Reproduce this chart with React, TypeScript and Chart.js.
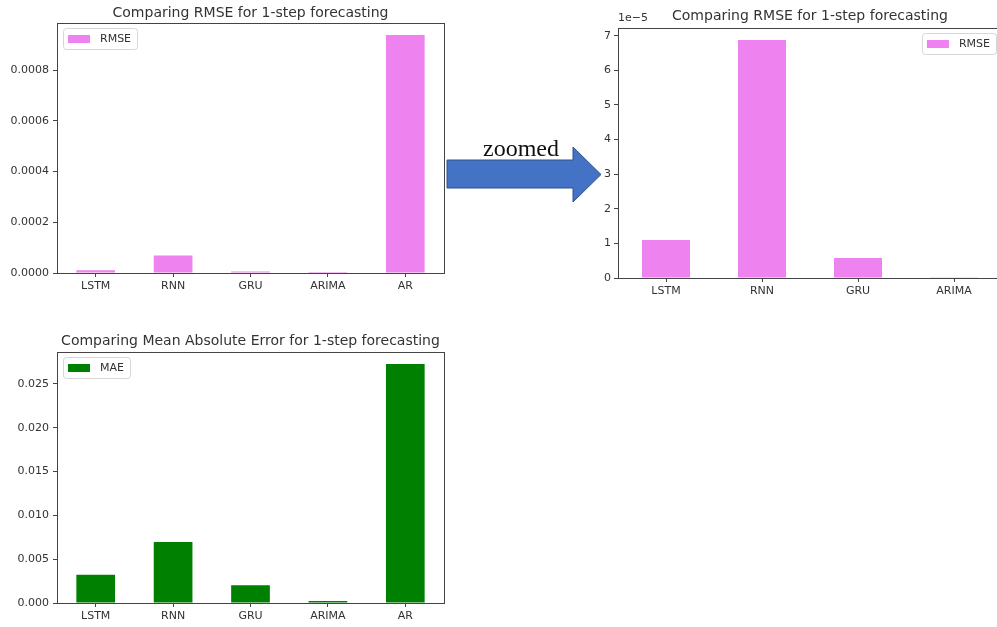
import React, { useEffect, useRef } from "react";
import { Chart, registerables } from "chart.js";

Chart.register(...registerables);

// ---- data ----
const models = ["LSTM", "RNN", "GRU", "ARIMA", "AR"];
const rmseValues = [1.1e-5, 6.88e-5, 5.8e-6, 1.0e-7, 9.39e-4];
const maeValues = [0.00323, 0.00695, 0.00202, 0.00023, 0.02727];
const zoomModels = ["LSTM", "RNN", "GRU", "ARIMA"];
const zoomRmseValues = [1.1e-5, 6.88e-5, 5.8e-6, 1.0e-7];
const rmseTicks = [0, 0.0002, 0.0004, 0.0006, 0.0008];
const zoomTicks = [0, 1e-5, 2e-5, 3e-5, 4e-5, 5e-5, 6e-5, 7e-5];
const maeTicks = [0, 0.005, 0.01, 0.015, 0.02, 0.025];

const FONT = "'DejaVu Sans', sans-serif";
const INK = "#333";

const framePlugin = {
  id: "frame",
  afterDraw(chart: any) {
    const { ctx, chartArea } = chart;
    const { left, top, right, bottom } = chartArea;
    ctx.save();
    ctx.strokeStyle = "#444";
    ctx.lineWidth = 1;
    ctx.strokeRect(Math.round(left) + 0.5, Math.round(top) + 0.5, Math.round(right - left), Math.round(bottom - top));
    ctx.restore();
  },
};

// title centred over the plot area (matplotlib style)
const plotTitlePlugin = {
  id: "plotTitle",
  afterDraw(chart: any, _args: any, opts: any) {
    const { ctx, chartArea } = chart;
    ctx.save();
    ctx.font = `14px ${FONT}`;
    ctx.fillStyle = INK;
    ctx.textAlign = "center";
    ctx.textBaseline = "alphabetic";
    ctx.fillText(opts.text, (chartArea.left + chartArea.right) / 2, opts.baseline);
    ctx.restore();
  },
};

const boxLegendPlugin = {
  id: "boxLegend",
  afterDraw(chart: any, _args: any, opts: any) {
    const { ctx, chartArea } = chart;
    const ds = chart.data.datasets[0];
    ctx.save();
    ctx.font = `11px ${FONT}`;
    const tw = ctx.measureText(ds.label).width;
    const w = 5 + 22 + 10 + tw + 6;
    const h = 21;
    const x = opts.corner === "right" ? chartArea.right - 6 - w : chartArea.left + 6;
    const y = chartArea.top + 5;
    ctx.fillStyle = "rgba(255,255,255,0.9)";
    ctx.strokeStyle = "#d6d6d6";
    ctx.lineWidth = 1;
    ctx.beginPath();
    (ctx as any).roundRect(x + 0.5, y + 0.5, w, h, 3);
    ctx.fill();
    ctx.stroke();
    ctx.fillStyle = ds.backgroundColor;
    ctx.fillRect(x + 5, y + 7, 22, 8);
    ctx.fillStyle = INK;
    ctx.textBaseline = "middle";
    ctx.textAlign = "left";
    ctx.fillText(ds.label, x + 37, y + h / 2 + 1);
    if (opts.exponent) {
      ctx.textBaseline = "bottom";
      ctx.fillText(opts.exponent, chartArea.left, chartArea.top - 4);
    }
    ctx.restore();
  },
};

type Cfg = {
  left: number;
  top: number;
  width: number;
  height: number;
  labels: string[];
  values: number[];
  color: string;
  label: string;
  title: string;
  titleBaseline: number;
  plotTop: number;
  ticks: number[];
  fmt: (v: number) => string;
  yMax: number;
  yWidth: number;
  xHeight: number;
  padRight: number;
  corner: "left" | "right";
  exponent?: string;
  tickPad: number;
};

function BarPanel(cfg: Cfg) {
  const ref = useRef<HTMLCanvasElement | null>(null);
  useEffect(() => {
    if (!ref.current) return;
    const chart = new Chart(ref.current, {
      type: "bar",
      data: {
        labels: cfg.labels,
        datasets: [
          {
            label: cfg.label,
            data: cfg.values,
            backgroundColor: cfg.color,
            borderWidth: 0,
            categoryPercentage: 1,
            barPercentage: 0.5,
          },
        ],
      },
      options: {
        responsive: false,
        animation: false,
        layout: { padding: { right: cfg.padRight, left: 0, top: cfg.plotTop, bottom: 0 } },
        plugins: {
          legend: { display: false },
          tooltip: { enabled: false },
          title: { display: false },
          plotTitle: { text: cfg.title, baseline: cfg.titleBaseline },
          boxLegend: { corner: cfg.corner, exponent: cfg.exponent },
        } as any,
        scales: {
          x: {
            offset: true,
            grid: { display: true, drawOnChartArea: false, drawTicks: true, tickLength: 4, color: "#444", offset: false },
            border: { display: false },
            ticks: { color: INK, font: { family: FONT, size: 11 }, padding: 3, maxRotation: 0, autoSkip: false },
            afterFit: (s: any) => {
              s.height = cfg.xHeight;
            },
          },
          y: {
            min: 0,
            max: cfg.yMax,
            grid: { display: true, drawOnChartArea: false, drawTicks: true, tickLength: 4, color: "#444" },
            border: { display: false },
            afterBuildTicks: (s: any) => {
              s.ticks = cfg.ticks.map((v) => ({ value: v }));
            },
            ticks: {
              color: INK,
              font: { family: FONT, size: 11 },
              padding: cfg.tickPad,
              callback: (v: any) => cfg.fmt(Number(v)),
            },
            afterFit: (s: any) => {
              s.width = cfg.yWidth;
            },
          },
        },
      },
      plugins: [framePlugin, plotTitlePlugin, boxLegendPlugin],
    });
    return () => chart.destroy();
  }, []);
  return (
    <canvas
      ref={ref}
      width={cfg.width}
      height={cfg.height}
      style={{ position: "absolute", left: cfg.left, top: cfg.top, width: cfg.width, height: cfg.height }}
    />
  );
}

export default function App() {
  return (
    <div
      style={{
        position: "absolute",
        left: 0,
        top: 0,
        width: 997,
        height: 627,
        overflow: "hidden",
        background: "#fff",
      }}
    >
      <BarPanel
        left={0}
        top={0}
        width={460}
        height={300}
        labels={models}
        values={rmseValues}
        color="#EE82EE"
        label="RMSE"
        title="Comparing RMSE for 1-step forecasting"
        titleBaseline={17}
        plotTop={23}
        ticks={rmseTicks}
        fmt={(v) => v.toFixed(4)}
        yMax={Math.max(...rmseValues) * 1.05}
        yWidth={57}
        xHeight={27}
        padRight={16}
        corner="left"
        tickPad={4}
      />
      <BarPanel
        left={570}
        top={0}
        width={440}
        height={310}
        labels={zoomModels}
        values={zoomRmseValues}
        color="#EE82EE"
        label="RMSE"
        title="Comparing RMSE for 1-step forecasting"
        titleBaseline={20}
        plotTop={28}
        ticks={zoomTicks}
        fmt={(v) => (v * 1e5).toFixed(0)}
        yMax={Math.max(...zoomRmseValues) * 1.05}
        yWidth={48}
        xHeight={32}
        padRight={8}
        corner="right"
        exponent={"1e\u22125"}
        tickPad={3}
      />
      <BarPanel
        left={0}
        top={320}
        width={460}
        height={307}
        labels={models}
        values={maeValues}
        color="#008000"
        label="MAE"
        title="Comparing Mean Absolute Error for 1-step forecasting"
        titleBaseline={25}
        plotTop={32}
        ticks={maeTicks}
        fmt={(v) => v.toFixed(3)}
        yMax={Math.max(...maeValues) * 1.05}
        yWidth={57}
        xHeight={24}
        padRight={16}
        corner="left"
        tickPad={4}
      />
      <svg width={997} height={627} style={{ position: "absolute", left: 0, top: 0, pointerEvents: "none" }}>
        <polygon
          points="447,160 573,160 573,147 601,174.5 573,202 573,188 447,188"
          fill="#4472C4"
          stroke="#2F528F"
          strokeWidth={1}
        />
        <text x={483} y={156} fontFamily="'Liberation Serif', 'Times New Roman', serif" fontSize={24} fill="#111">
          zoomed
        </text>
      </svg>
    </div>
  );
}
